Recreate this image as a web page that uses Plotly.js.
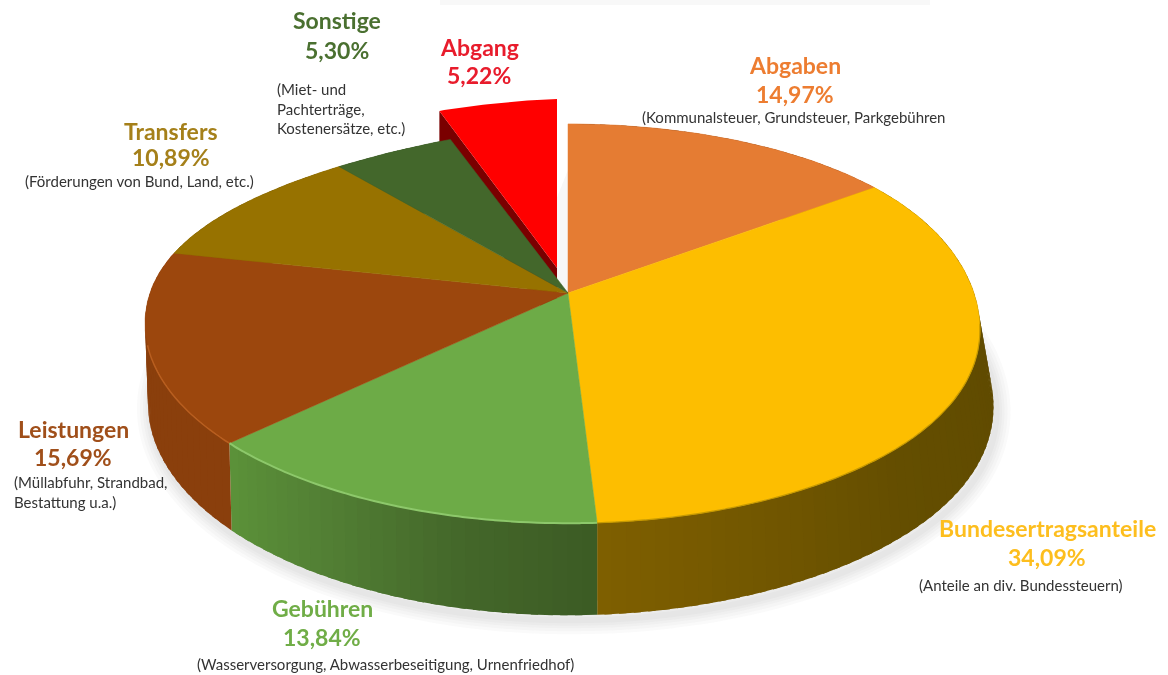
<!DOCTYPE html>
<html><head><meta charset="utf-8">
<script src="https://cdn.plot.ly/plotly-3.0.1.min.js"></script>
<style>html,body{margin:0;padding:0;background:#fff;overflow:hidden}#c{width:1168px;height:675px;filter:blur(0.6px)}</style>
</head><body><div id="c"></div>
<script>
// ---- data ----
const names  = ["Abgaben","Bundesertragsanteile","Gebühren","Leistungen","Transfers","Sonstige","Abgang"];
const values = [14.97,34.09,13.84,15.69,10.89,5.30,5.22];
const notes  = ["(Kommunalsteuer, Grundsteuer, Parkgebühren","(Anteile an div. Bundessteuern)",
  "(Wasserversorgung, Abwasserbeseitigung, Urnenfriedhof)","(Müllabfuhr, Strandbad,<br>Bestattung u.a.)",
  "(Förderungen von Bund, Land, etc.)","(Miet- und<br>Pachterträge,<br>Kostenersätze, etc.)",""];
// ---- styles ----
const topColors  = ["#E57C33","#FDBE00","#6DAB47","#9C470D","#977200","#43672B","#FF0000"];
const textColors = ["#ED7D31","#FDBE1E","#70AD47","#A04F1A","#A5801A","#4A7030","#E81C2C"];
const sideStops  = [["#8f4a1c","#8f4a1c"],["#5f4a00","#5f4a00","#644e00","#7f5f00"],["#3c5b24","#44682a","#527f34","#5c9239"],
  ["#8a3f0c","#8a3f0c"],["#6f5300","#6f5300"],["#2e471d","#2e471d"],["#7a0000","#7a0000"]];
const labelPos = [[795,65,94,793,117,"center"],[1047,528,557,1021,585,"center"],[322,608,637,385,664,"center"],
  [73,429,457,12,492,"left"],[171,131,157,139,181,"center"],[337,20,50,275,108,"left"],[479,47,75,0,0,"center"]];
const apex=[568,293], A=418, B=195, K=0.153;
function rim(t,fudge){
  const u=Math.sin(t), v=Math.cos(t), w=1+K*v;
  let X=apex[0]+A*u/w, Y=apex[1]-B*v/w;
  if(u<0 && v>0) Y+=fudge*(-u)*Math.pow(v,1.6);
  if(u>0) X-=12*Math.pow(u,6);
  return [X,Y];
}
function low(t){
  const u=Math.sin(t), v=Math.cos(t), p=rim(t,26);
  return [p[0]+(u>0?14*u*u:3*(-u)), p[1]+78/(1+K*v)];
}
function hexLerp(a,b,f){
  const pa=[1,3,5].map(i=>parseInt(a.substr(i,2),16)), pb=[1,3,5].map(i=>parseInt(b.substr(i,2),16));
  return "rgb("+pa.map((c,i)=>Math.round(c+(pb[i]-c)*f)).join(",")+")";
}
function stopColor(st,f){
  const n=st.length-1, x=Math.min(f*n,n-1e-6), i=Math.floor(x);
  return hexLerp(st[i],st[i+1],x-i);
}
const total=values.reduce((a,b)=>a+b,0);
const bounds=[0]; values.forEach(v=>bounds.push(bounds[bounds.length-1]+v/total*2*Math.PI));
const traces=[];
function poly(pts,color,lw){
  const c=pts.concat([pts[0]]);
  traces.push({type:"scatter",mode:"lines",x:c.map(p=>p[0]),y:c.map(p=>p[1]),fill:"toself",fillcolor:color,
    line:{color:color,width:lw===undefined?0:lw},hoverinfo:"skip",showlegend:false});
}
function stroke(pts,color,w){
  traces.push({type:"scatter",mode:"lines",x:pts.map(p=>p[0]),y:pts.map(p=>p[1]),
    line:{color:color,width:w,shape:"spline"},hoverinfo:"skip",showlegend:false});
}
function arc(a,b,f,n){const o=[];for(let i=0;i<=n;i++)o.push(f(a+(b-a)*i/n));return o;}
// soft shadow under the drum
[28,22,16,11,6].forEach(w=>{
  const s=arc(0.6,4.9,t=>{const p=low(t);return [p[0]+3,p[1]+5];},90);
  stroke(s,"rgba(60,60,60,0.028)",w);
});
// shadow in the gap behind the pulled-out slice
poly([[556,200],[568,170],[568,293],[556,280]],"rgba(120,120,120,0.06)");
// side walls
const rimT=t=>rim(t,26);
for(let i=0;i<6;i++){
  const a=bounds[i],b=bounds[i+1],n=Math.max(2,Math.ceil((b-a)/0.03));
  for(let j=0;j<n;j++){
    const t0=a+(b-a)*j/n,t1=Math.min(b,a+(b-a)*(j+1)/n+0.015);
    const seg=arc(t0,t1,rimT,3).concat(arc(t1,t0,low,3));
    poly(seg,stopColor(sideStops[i],(j+0.5)/n));
  }
}
// pulled-out slice
const last=6, off=[-11,-25], abA=[apex[0]+off[0],apex[1]+off[1]];
const abArc=arc(bounds[last],bounds[last+1],t=>{const p=rim(t,14);return [p[0]+off[0],p[1]+off[1]];},24);
const ab0=abArc[0];
poly([ab0,abA,[abA[0],abA[1]+60],[ab0[0],ab0[1]+60]],sideStops[last][0]);
poly([abA].concat(abArc),topColors[last]);
// top faces
for(let i=0;i<6;i++){
  const a=bounds[i],b=bounds[i+1];
  poly([apex].concat(arc(a,b,rimT,Math.ceil((b-a)/0.02))),topColors[i],0.5);
}
// bevel highlights along the rim
stroke(arc(bounds[2],bounds[3],rimT,50),"#8DC86B",2);
stroke(arc(bounds[3],bounds[3]+0.5,rimT,20),"#B85E1F",1.5);
stroke(arc(Math.PI*0.55,bounds[2],rimT,70),"#C79A00",1.2);
// labels
const ann=[];
const fam="Lato, 'Open Sans', sans-serif";
names.forEach((nm,i)=>{
  const L=labelPos[i];
  ann.push({x:L[0],y:L[1],text:"<b>"+nm+"</b>",font:{family:fam,size:23,color:textColors[i]}});
  ann.push({x:L[0],y:L[2],text:"<b>"+values[i].toFixed(2).replace(".",",")+"%</b>",font:{family:fam,size:23,color:textColors[i]}});
  if(notes[i]) ann.push({x:L[3],y:L[4],text:notes[i],align:L[5],xanchor:L[5],font:{family:fam,size:15,color:"#333"}});
});
ann.forEach(a=>{a.xref="x";a.yref="y";a.showarrow=false;if(!a.xanchor)a.xanchor="center";a.yanchor="middle";});
Plotly.newPlot("c",traces,{
  width:1168,height:675,margin:{l:0,r:0,t:0,b:0},paper_bgcolor:"#fff",plot_bgcolor:"#fff",showlegend:false,
  xaxis:{range:[0,1168],visible:false,fixedrange:true},
  yaxis:{range:[675,0],visible:false,fixedrange:true},
  annotations:ann,
  shapes:[{type:"rect",xref:"x",yref:"y",x0:440,x1:930,y0:0,y1:5,fillcolor:"rgba(120,120,120,0.05)",line:{width:0}}]
},{staticPlot:true,displayModeBar:false});
</script></body></html>
